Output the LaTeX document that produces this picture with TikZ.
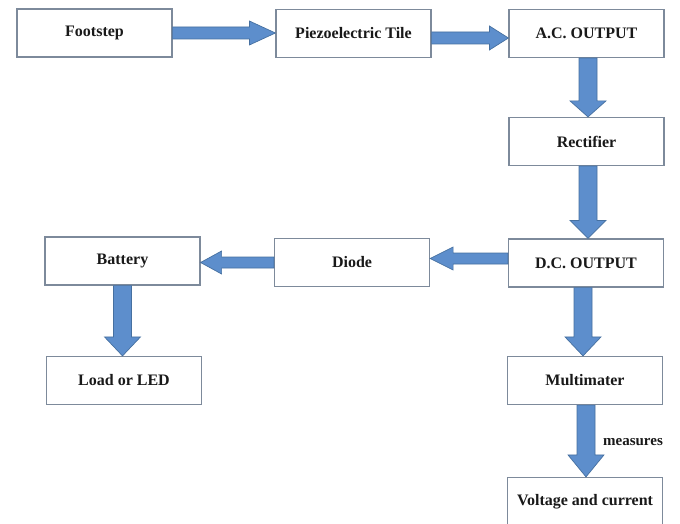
\documentclass[tikz,border=0pt]{standalone}
\usepackage{fontspec}
\setmainfont{Liberation Serif}
\usetikzlibrary{calc}
\definecolor{arrfill}{RGB}{93,142,204}
\definecolor{arredge}{RGB}{70,112,160}
\definecolor{boxedge}{RGB}{125,138,155}
\tikzset{
  blockbox/.style={draw=boxedge, line width=1.2pt, minimum width=155pt, minimum height=48pt,
    inner sep=0pt, font=\fontsize{16}{18}\selectfont\bfseries, text=black!90},
  blockarrow/.style={fill=arrfill, draw=arredge, line width=0.7pt, line join=miter},
}
% right arrow: from, to, y offset, head length
\newcommand\arrowR[4]{\filldraw[blockarrow] let \p1=(#1.east), \p2=(#2.west) in
 (\x1,{\y1+#3+6pt}) -- ({\x2-#4},{\y1+#3+6pt}) -- ({\x2-#4},{\y1+#3+12pt}) -- (\x2,{\y1+#3})
 -- ({\x2-#4},{\y1+#3-12pt}) -- ({\x2-#4},{\y1+#3-6pt}) -- (\x1,{\y1+#3-6pt}) -- cycle;}
% left arrow
\newcommand\arrowL[4]{\filldraw[blockarrow] let \p1=(#1.west), \p2=(#2.east) in
 (\x1,{\y1+#3+5.5pt}) -- ({\x2+#4},{\y1+#3+5.5pt}) -- ({\x2+#4},{\y1+#3+11.5pt}) -- (\x2,{\y1+#3})
 -- ({\x2+#4},{\y1+#3-11.5pt}) -- ({\x2+#4},{\y1+#3-5.5pt}) -- (\x1,{\y1+#3-5.5pt}) -- cycle;}
% down arrow: from, to, x offset, head length
\newcommand\arrowD[4]{\filldraw[blockarrow] let \p1=(#1.south), \p2=(#2.north) in
 ({\x1+#3-9pt},\y1) -- ({\x1+#3-9pt},{\y2+#4}) -- ({\x1+#3-18pt},{\y2+#4}) -- ({\x1+#3},\y2)
 -- ({\x1+#3+18pt},{\y2+#4}) -- ({\x1+#3+9pt},{\y2+#4}) -- ({\x1+#3+9pt},\y1) -- cycle;}
\begin{document}
\begin{tikzpicture}[x=1pt,y=-1pt]
\fill[white] (0,0) rectangle (680,524);
\useasboundingbox (0,0) rectangle (680,524);

\node[blockbox] (foot)  at (94.5,33)   {Footstep};
\node[blockbox] (piezo) at (353.5,33.5) {Piezoelectric Tile};
\node[blockbox] (ac)    at (586.5,33.5) {A.C. OUTPUT};
\node[blockbox] (rect)  at (586.5,141.5) {Rectifier};
\node[blockbox] (dc)    at (586,263)   {D.C. OUTPUT};
\node[blockbox] (diode) at (352,262.5) {Diode};
\node[blockbox] (batt)  at (122.5,261) {Battery};
\node[blockbox] (load)  at (124,380.5) {Load or LED};
\node[blockbox] (multi) at (585,380.5) {Multimater};
\node[blockbox] (volt)  at (585,501.5) {Voltage and current};
\node[font=\fontsize{15}{17}\selectfont\bfseries, text=black!90, inner sep=0pt] (meas) at (633,442) {measures};

\arrowR{foot}{piezo}{0pt}{26pt}
\arrowR{piezo}{ac}{-4.5pt}{19pt}
\arrowD{ac}{rect}{1.5pt}{16pt}
\arrowD{rect}{dc}{1.5pt}{18pt}
\arrowL{dc}{diode}{4.5pt}{23pt}
\arrowL{diode}{batt}{0pt}{21pt}
\arrowD{batt}{load}{0pt}{19pt}
\arrowD{dc}{multi}{-3pt}{19pt}
\arrowD{multi}{volt}{1pt}{22pt}
\end{tikzpicture}
\end{document}
